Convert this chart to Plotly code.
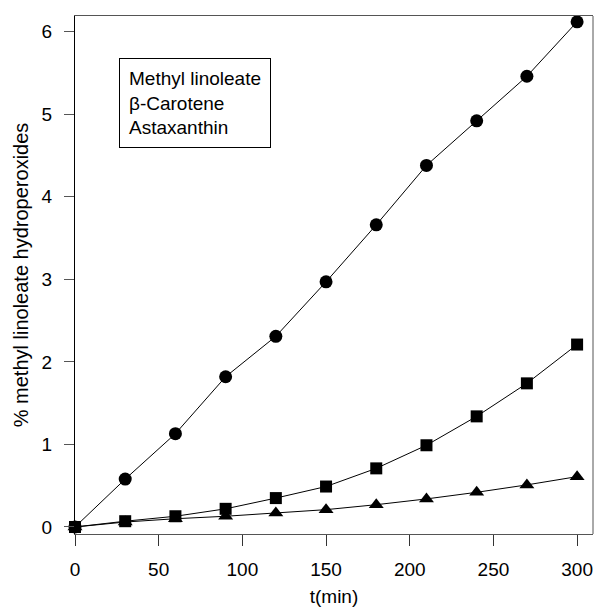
import plotly.graph_objects as go

t_min = [0, 30, 60, 90, 120, 150, 180, 210, 240, 270, 300]
methyl_linoleate = [0.0, 0.58, 1.13, 1.82, 2.31, 2.97, 3.66, 4.38, 4.92, 5.46, 6.12]
beta_carotene = [0.0, 0.07, 0.13, 0.22, 0.35, 0.49, 0.71, 0.99, 1.34, 1.74, 2.21]
astaxanthin = [0.0, 0.06, 0.10, 0.13, 0.17, 0.21, 0.27, 0.34, 0.42, 0.51, 0.61]
legend_labels = ["Methyl linoleate", "β-Carotene", "Astaxanthin"]
x_ticks = [0, 50, 100, 150, 200, 250, 300]
y_ticks = [0, 1, 2, 3, 4, 5, 6]

FONT = "Liberation Sans, Arial, sans-serif"

fig = go.Figure()
series = [
    (methyl_linoleate, "circle", 13),
    (beta_carotene, "square", 12),
    (astaxanthin, "triangle-up", 13),
]
for (vals, sym, sz), name in zip(series, legend_labels):
    fig.add_trace(go.Scatter(
        x=t_min, y=vals, name=name, mode="lines+markers",
        line=dict(color="black", width=1),
        marker=dict(symbol=sym, size=sz, color="black", line=dict(width=0)),
        showlegend=False, cliponaxis=False,
    ))

fig.add_annotation(
    xref="paper", yref="paper", x=(119 - 75) / 518, y=(534 - 58) / 518,
    xanchor="left", yanchor="top",
    text="<br>".join(legend_labels), showarrow=False, align="left",
    font=dict(family=FONT, size=19, color="black"),
    bordercolor="black", borderwidth=1, borderpad=9, bgcolor="white",
)

fig.add_shape(type="line", xref="paper", yref="paper", x0=1, x1=1, y0=0, y1=1,
              line=dict(color="#555", width=1))

fig.update_layout(
    width=594, height=610,
    margin=dict(l=75, r=1, t=16, b=76),
    plot_bgcolor="white", paper_bgcolor="white",
    font=dict(family=FONT, size=19, color="black"),
)
fig.update_xaxes(
    range=[0, 309.5], tickvals=x_ticks, ticks="outside", ticklen=11,
    tickcolor="#333", tickwidth=1, showgrid=False, zeroline=False,
    showline=True, linecolor="#555", linewidth=1, mirror=True,
    ticklabelstandoff=7, automargin=False,
    title=dict(text="t(min)", font=dict(size=19), standoff=10),
)
fig.update_yaxes(
    range=[-0.085, 6.19], tickvals=y_ticks, ticks="outside", ticklen=10,
    tickcolor="#555", tickwidth=1, showgrid=False, zeroline=False,
    showline=True, linecolor="black", linewidth=1,
    ticklabelstandoff=8, automargin=False,
    title=dict(text="% methyl linoleate hydroperoxides", font=dict(size=20), standoff=7),
)

fig.write_html(
    "out.html",
    config={"displayModeBar": False},
    post_script="document.body.style.margin='0px';document.body.style.overflow='hidden';",
)
